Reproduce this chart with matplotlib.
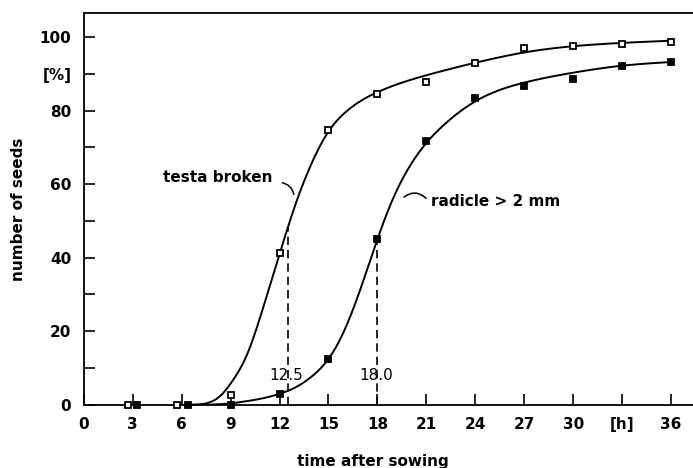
import matplotlib.pyplot as plt
import numpy as np
from matplotlib.ticker import FixedLocator

plt.rcParams['font.family'] = 'DejaVu Sans'
plt.rcParams['font.weight'] = 'bold'

# measured points
testa_x = [2.7, 5.7, 9, 12, 15, 18, 21, 24, 27, 30, 33, 36]
testa_y = [0, 0, 2.7, 41.2, 74.7, 84.5, 87.9, 92.8, 97.1, 97.6, 98.0, 98.7]
radicle_x = [3.25, 6.4, 9, 12, 15, 18, 21, 24, 27, 30, 33, 36]
radicle_y = [0, 0, 0, 2.9, 12.5, 45.0, 71.6, 83.5, 86.8, 88.7, 92.1, 93.1]

# hand-drawn smooth curves, knots
testa_curve_x = [6.5, 7.5, 8.5, 9, 10, 11, 12, 13, 14, 15, 16, 18, 21, 24, 27, 30, 33, 36]
testa_curve_y = [0, 0.4, 3.0, 5.8, 13.6, 26.5, 41, 54.8, 66, 74.3, 79.4, 85, 89.6, 93, 95.8, 97.5, 98.4, 99]
radicle_curve_x = [6.4, 8, 9, 10, 11, 12, 13, 14, 15, 16, 17, 18, 19, 20, 21, 22, 24, 27, 30, 33, 36]
radicle_curve_y = [0, 0.1, 0.4, 1.0, 1.8, 3.0, 4.8, 7.8, 12.5, 20.5, 32, 45, 56.5, 65, 71.2, 75.8,
                   82.5, 87.6, 90.3, 92.2, 93.2]

# half-germination times
t50 = [12.5, 18.0]
t50_labels = ['12.5', '18.0']

xticks = [0, 3, 6, 9, 12, 15, 18, 21, 24, 27, 30, 33, 36]
xticklabels = ['0', '3', '6', '9', '12', '15', '18', '21', '24', '27', '30', '[h]', '36']
yticks = [0, 20, 40, 60, 80, 100]
yticklabels = ['0', '20', '40', '60', '80', '100']
yminor = [10, 30, 50, 70, 90]


def spline(xk, yk, xs):
    # natural cubic spline through the knots
    xk = np.asarray(xk, float)
    yk = np.asarray(yk, float)
    n = len(xk)
    h = np.diff(xk)
    A = np.zeros((n, n))
    r = np.zeros(n)
    A[0, 0] = A[-1, -1] = 1
    for k in range(1, n - 1):
        A[k, k - 1] = h[k - 1]
        A[k, k] = 2 * (h[k - 1] + h[k])
        A[k, k + 1] = h[k]
        r[k] = 6 * ((yk[k + 1] - yk[k]) / h[k] - (yk[k] - yk[k - 1]) / h[k - 1])
    M = np.linalg.solve(A, r)
    i = np.clip(np.searchsorted(xk, xs) - 1, 0, n - 2)
    a = xk[i + 1] - xs
    b = xs - xk[i]
    hi = h[i]
    out = (M[i] * a**3 + M[i + 1] * b**3) / (6 * hi) \
        + (yk[i] / hi - M[i] * hi / 6) * a + (yk[i + 1] / hi - M[i + 1] * hi / 6) * b
    return np.clip(out, 0, None)


fig = plt.figure(figsize=(6.93, 4.68), dpi=100)
ax = fig.add_axes([0.121, 0.135, 0.879, 0.837])

xs = np.linspace(testa_curve_x[0], testa_curve_x[-1], 500)
ax.plot(xs, spline(testa_curve_x, testa_curve_y, xs), color='black', lw=1.4)
xs2 = np.linspace(radicle_curve_x[0], radicle_curve_x[-1], 500)
ax.plot(xs2, spline(radicle_curve_x, radicle_curve_y, xs2), color='black', lw=1.4)

ax.plot(testa_x, testa_y, 's', ms=5, mfc='white', mec='black', mew=1.3, clip_on=False, zorder=4)
ax.plot(radicle_x, radicle_y, 's', ms=5, mfc='black', mec='black', mew=1.3, clip_on=False, zorder=4)

# dashed lines down from the curves at 50 %
curves = [(testa_curve_x, testa_curve_y), (radicle_curve_x, radicle_curve_y)]
for t, lab, (cx, cy) in zip(t50, t50_labels, curves):
    top = float(spline(cx, cy, np.array([t]))[0])
    ax.plot([t, t], [0, top], color='black', lw=1.2, ls=(0, (5, 3)))
    ax.text(t - 0.1, 8, lab, ha='center', va='center', fontsize=11, fontweight='normal')

ax.text(8.2, 61.7, 'testa broken', ha='center', va='center', fontsize=11)
ax.annotate('', xy=(12.9, 56.5), xytext=(12.0, 60.5),
            arrowprops=dict(arrowstyle='-', lw=1.1, connectionstyle='arc3,rad=-0.4'))
ax.text(21.3, 55.3, 'radicle > 2 mm', ha='left', va='center', fontsize=11)
ax.annotate('', xy=(21.1, 55.6), xytext=(19.5, 56.0),
            arrowprops=dict(arrowstyle='-', lw=1.1, connectionstyle='arc3,rad=-0.5'))

ax.set_xlim(0, 37.35)
ax.set_ylim(0, 106.5)
ax.spines['right'].set_visible(False)
for s in ['left', 'top', 'bottom']:
    ax.spines[s].set_linewidth(1.3)

ax.set_xticks(xticks)
ax.set_xticklabels(xticklabels)
ax.set_yticks(yticks)
ax.set_yticklabels(yticklabels)
ax.yaxis.set_minor_locator(FixedLocator(yminor))
ax.set_yticklabels(['[%]'] * len(yminor), minor=True)
ax.tick_params(axis='both', which='both', direction='in', length=8, width=1.2,
               labelsize=11, top=False, right=False)
ax.tick_params(axis='y', which='both', pad=9)
ax.tick_params(axis='x', pad=9)
for lbl in ax.get_yticklabels(minor=True)[:4]:
    lbl.set_visible(False)

ax.set_xlabel('time after sowing', fontsize=11, fontweight='bold')
ax.xaxis.set_label_coords(0.475, -0.125)
ax.set_ylabel('number of seeds', fontsize=11, fontweight='bold')
ax.yaxis.set_label_coords(-0.095, 0.5)

fig.savefig('out.png', dpi=100)
